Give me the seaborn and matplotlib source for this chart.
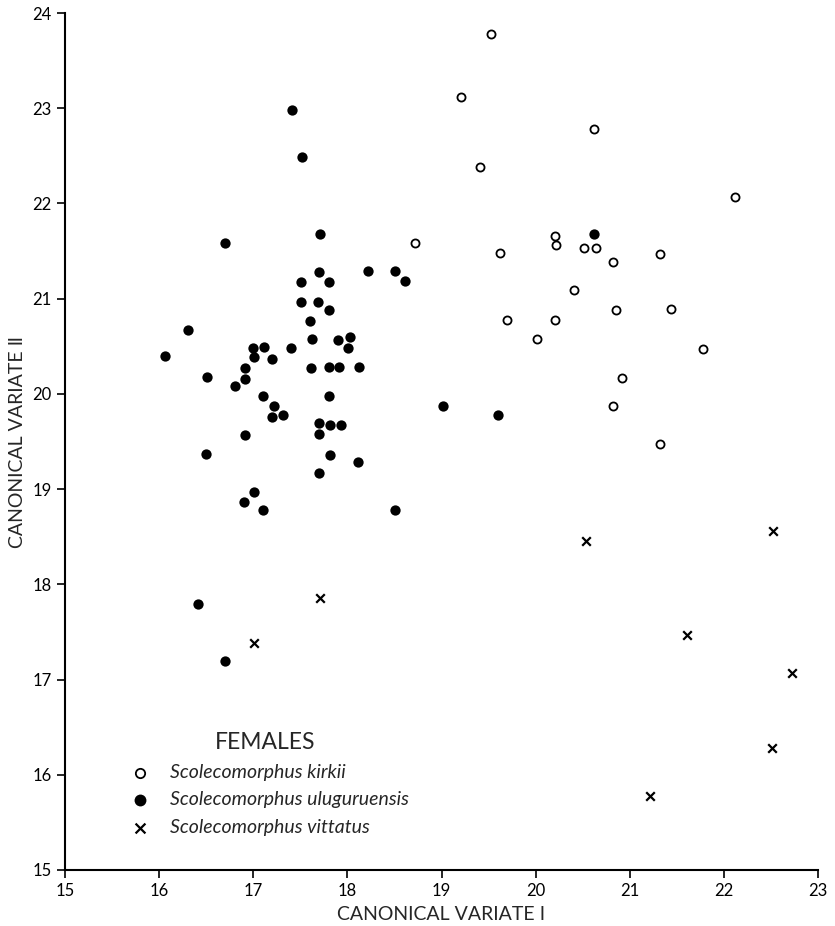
import numpy as np
import pandas as pd
import matplotlib
matplotlib.use("Agg")
import matplotlib.pyplot as plt
import seaborn as sns

# canonical variate scores
kirkii_x = [19.53, 19.21, 20.62, 19.41, 22.12, 20.21, 20.22, 19.62, 20.51, 20.64,
            21.32, 20.82, 20.41, 19.70, 20.21, 20.85, 21.44, 20.01, 21.78, 20.92,
            20.82, 21.32, 18.72]
kirkii_y = [23.78, 23.12, 22.78, 22.38, 22.07, 21.66, 21.56, 21.48, 21.53, 21.53,
            21.47, 21.38, 21.09, 20.78, 20.78, 20.88, 20.89, 20.58, 20.47, 20.17,
            19.87, 19.47, 21.58]

ulug_x = [17.71, 16.70, 17.70, 18.22, 18.51, 17.51, 17.81, 17.51, 17.69, 17.81,
          17.60, 16.31, 17.62, 17.90, 18.03, 18.01, 17.00, 17.11, 17.40, 16.06,
          17.01, 17.20, 16.91, 17.61, 17.80, 17.91, 18.12, 16.51, 16.91, 16.81,
          17.81, 17.10, 17.22, 17.20, 17.32, 17.70, 17.82, 17.93, 17.70, 16.91,
          16.50, 17.82, 18.11, 17.70, 17.01, 16.90, 17.10, 18.51, 17.41, 17.52,
          18.61, 19.02, 19.60, 20.62, 16.41, 16.70]
ulug_y = [21.68, 21.58, 21.28, 21.29, 21.29, 21.17, 21.17, 20.97, 20.97, 20.88,
          20.77, 20.67, 20.58, 20.57, 20.60, 20.48, 20.48, 20.49, 20.48, 20.40,
          20.39, 20.37, 20.27, 20.27, 20.28, 20.28, 20.28, 20.18, 20.16, 20.08,
          19.98, 19.98, 19.87, 19.76, 19.78, 19.69, 19.67, 19.67, 19.58, 19.57,
          19.37, 19.36, 19.28, 19.17, 18.97, 18.86, 18.78, 18.78, 22.98, 22.49,
          21.19, 19.87, 19.78, 21.68, 17.79, 17.20]

vitt_x = [17.01, 17.71, 20.53, 22.52, 21.61, 22.72, 22.51, 21.21]
vitt_y = [17.38, 17.86, 18.46, 18.56, 17.47, 17.07, 16.28, 15.78]

species = ["Scolecomorphus kirkii", "Scolecomorphus uluguruensis", "Scolecomorphus vittatus"]

df = pd.DataFrame({
    "cv1": kirkii_x + ulug_x + vitt_x,
    "cv2": kirkii_y + ulug_y + vitt_y,
    "species": [species[0]] * len(kirkii_x) + [species[1]] * len(ulug_x) + [species[2]] * len(vitt_x),
})

sns.set_theme(style="ticks")
plt.rcParams["font.family"] = ["Lato", "DejaVu Sans"]

fig = plt.figure(figsize=(8.35, 9.26), dpi=100)
ax = fig.add_axes([65 / 835, 1 - 870 / 926, 753 / 835, 857 / 926])

sns.scatterplot(data=df[df.species == species[0]], x="cv1", y="cv2", ax=ax,
                marker="o", s=34, facecolor="white", edgecolor="black", linewidth=1.3,
                label=species[0])
sns.scatterplot(data=df[df.species == species[1]], x="cv1", y="cv2", ax=ax,
                marker="o", s=55, color="black", edgecolor="black", linewidth=0,
                label=species[1])
sns.scatterplot(data=df[df.species == species[2]], x="cv1", y="cv2", ax=ax,
                marker="x", s=38, color="black", linewidth=1.6,
                label=species[2])

ax.set_xlim(15, 23)
ax.set_ylim(15, 24)
ax.set_xticks(range(15, 24))
ax.set_yticks(range(15, 25))
ax.tick_params(axis="both", direction="out", length=6, width=1.2, labelsize=12,
               colors="black")
sns.despine(ax=ax)
for sp in ("left", "bottom"):
    ax.spines[sp].set_linewidth(1.5)
    ax.spines[sp].set_color("black")

ax.set_xlabel("CANONICAL VARIATE \u2160", fontsize=14, labelpad=5)
ax.set_ylabel("CANONICAL VARIATE \u2161", fontsize=14, labelpad=5)

leg = ax.legend(title="FEMALES", loc="upper left", bbox_to_anchor=(0.064, 0.17),
                frameon=False, fontsize=14, title_fontsize=16.5,
                handletextpad=0.5, labelspacing=0.55, borderaxespad=0,
                markerscale=1.15)
for t in leg.get_texts():
    t.set_fontstyle("italic")

fig.savefig("out.png", dpi=100)
